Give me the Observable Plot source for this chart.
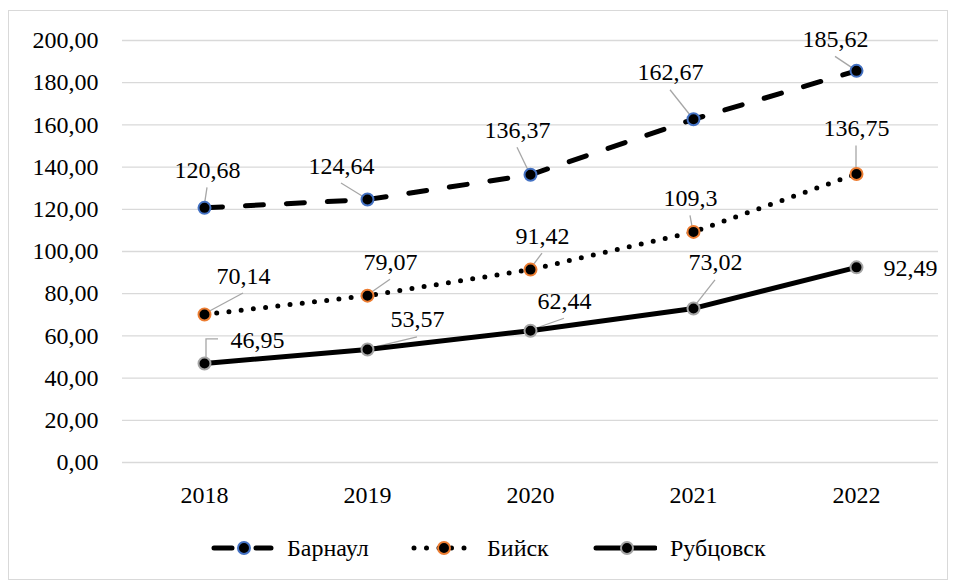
<!DOCTYPE html>
<html><head><meta charset="utf-8">
<script src="https://cdn.jsdelivr.net/npm/d3@7"></script>
<script src="https://cdn.jsdelivr.net/npm/@observablehq/plot@0.6"></script>
<style>
html,body{margin:0;padding:0;background:#fff;width:955px;height:581px;overflow:hidden;font-family:'Liberation Serif','DejaVu Serif',serif;}
#frame{position:absolute;left:8px;top:10px;width:940px;height:570px;border:1.5px solid #d9d9d9;box-sizing:border-box;}
#chart{position:absolute;left:0;top:0;}
#chart svg, #chart text{font-family:'Liberation Serif','DejaVu Serif',serif !important;}
#legend{position:absolute;left:0;top:536px;width:955px;height:24px;}
.item{position:absolute;top:0;height:24px;display:flex;align-items:center;font-size:24px;line-height:24px;white-space:nowrap;font-family:'Liberation Serif','DejaVu Serif',serif;}
.item svg{display:block;margin-right:13px;}
</style></head><body>
<div id="frame"></div>
<div id="chart"></div>
<div id="legend"></div>
<script>
// ---- data ----
const years = [2018, 2019, 2020, 2021, 2022];
const seriesNames = ["Барнаул", "Бийск", "Рубцовск"];
const barnaul = [120.68, 124.64, 136.37, 162.67, 185.62];
const biysk = [70.14, 79.07, 91.42, 109.3, 136.75];
const rubtsovsk = [46.95, 53.57, 62.44, 73.02, 92.49];
const yTicks = [0, 20, 40, 60, 80, 100, 120, 140, 160, 180, 200];

// ---- styling / label placement (pixels) ----
const FONT = "'Liberation Serif','DejaVu Serif',serif";
const FS = 24;
const markerColors = ["#4472C4", "#ED7D31", "#A5A5A5"];
const dashes = ["18,23", "0,12.3", null];
const labelOffsets = [
  [[3,-30],[-26,-26],[-13,-37],[-23,-39],[-21,-24]],
  [[39,-31],[23,-26],[12,-26],[-3,-26],[0,-38]],
  [[53,-15],[50,-22],[34,-22],[22,-38],[54,9]]
];
const leaderModes = [
  ["line","line","line","line","line"],
  ["line","line","line","line","line"],
  ["elbow","line","line","line","none"]
];

const values = [barnaul, biysk, rubtsovsk];
const fmt = v => String(v).replace(".", ",");
const rows = [];
values.forEach((arr, s) => arr.forEach((v, i) => rows.push({
  series: seriesNames[s], s, i, year: years[i], value: v, label: fmt(v),
  off: labelOffsets[s][i], mode: leaderModes[s][i]
})));

function leaders(index, scales) {
  const sc = (scales && typeof scales.x === "function") ? scales : index;
  const g = d3.create("svg:g").attr("stroke", "#A6A6A6").attr("stroke-width", 1.3).attr("fill", "none");
  for (const r of rows) {
    if (r.mode === "none") continue;
    const px = sc.x(r.year), py = sc.y(r.value);
    if (r.mode === "elbow") {
      g.append("path").attr("d", `M${px+14},${py-24}H${px+2}V${py-6}`);
    } else {
      g.append("line").attr("x1", px + r.off[0]).attr("y1", py + r.off[1] + 10)
        .attr("x2", px).attr("y2", py);
    }
  }
  return g.node();
}

const marks = [
  Plot.gridY(yTicks, {stroke: "#d9d9d9", strokeOpacity: 1, strokeWidth: 1.3}),
  Plot.axisY(yTicks, {tickSize: 0, tickPadding: 24, tickFormat: d => d.toFixed(2).replace(".", ","), fontSize: FS, label: null}),
  Plot.axisX(years, {tickSize: 0, tickPadding: 23, tickFormat: d => String(d), fontSize: FS, label: null}),
  leaders
];
values.forEach((arr, s) => {
  const data = rows.filter(r => r.s === s);
  marks.push(Plot.line(data, {x: "year", y: "value", stroke: "#000", strokeWidth: 5,
    strokeDasharray: dashes[s] || undefined, strokeLinecap: "round", strokeLinejoin: "round"}));
});
values.forEach((arr, s) => {
  const data = rows.filter(r => r.s === s);
  marks.push(Plot.dot(data, {x: "year", y: "value", r: 6, fill: "#000", stroke: markerColors[s], strokeWidth: 2}));
});
for (const r of rows) {
  marks.push(Plot.text([r], {x: "year", y: "value", text: "label", dx: r.off[0], dy: r.off[1] - 0.32 * FS,
    fontSize: FS, fill: "#000", textAnchor: "middle"}));
}

const chart = Plot.plot({
  width: 955, height: 520,
  marginLeft: 122, marginRight: 17, marginTop: 40, marginBottom: 58,
  x: {type: "point", domain: years, padding: 0.5, axis: null},
  y: {domain: [0, 200], axis: null},
  style: {fontFamily: FONT, fontSize: FS + "px", color: "#000", background: "transparent", overflow: "visible"},
  marks
});
document.getElementById("chart").appendChild(chart);

// ---- legend ----
const legend = d3.select("#legend");
const itemLefts = [210, 410, 593];
seriesNames.forEach((name, s) => {
  const item = legend.append("div").attr("class", "item").style("left", itemLefts[s] + "px");
  const svg = item.append("svg").attr("width", 64).attr("height", 24);
  const cy = 12, cx = 34;
  if (s === 0) {
    svg.append("path").attr("d", `M4,${cy}H22M46,${cy}H61`).attr("stroke", "#000").attr("stroke-width", 5).attr("stroke-linecap", "round");
  } else if (s === 1) {
    svg.append("line").attr("x1", 4).attr("x2", 64).attr("y1", cy).attr("y2", cy).attr("stroke", "#000")
      .attr("stroke-width", 5).attr("stroke-linecap", "round").attr("stroke-dasharray", "0,12.5");
  } else {
    svg.append("line").attr("x1", 3).attr("x2", 62).attr("y1", cy).attr("y2", cy).attr("stroke", "#000").attr("stroke-width", 5).attr("stroke-linecap", "round");
  }
  svg.append("circle").attr("cx", cx).attr("cy", cy).attr("r", 6).attr("fill", "#000").attr("stroke", markerColors[s]).attr("stroke-width", 2);
  item.append("span").text(name);
});
</script>
</body></html>
